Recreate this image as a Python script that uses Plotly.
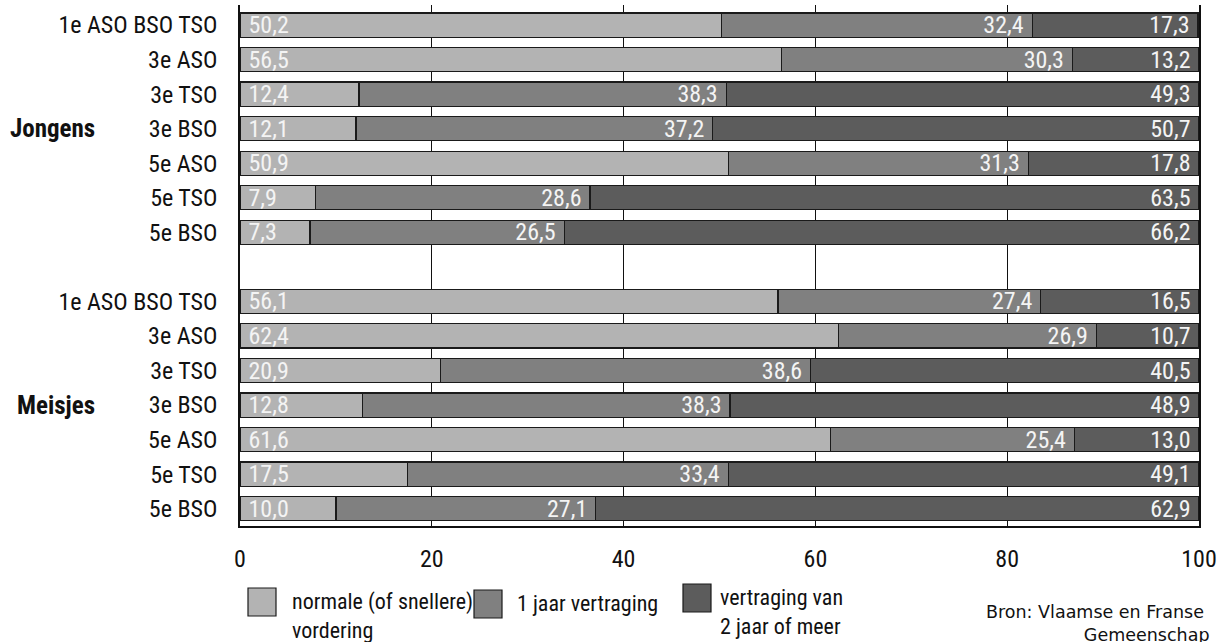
import plotly.graph_objects as go

# ---- data ----
groups = ["Jongens", "Meisjes"]
categories = ["1e ASO BSO TSO", "3e ASO", "3e TSO", "3e BSO", "5e ASO", "5e TSO", "5e BSO"]
series_names = ["normale (of snellere)<br>vordering", "1 jaar vertraging", "vertraging van<br>2 jaar of meer"]

jongens_normaal = [50.2, 56.5, 12.4, 12.1, 50.9, 7.9, 7.3]
jongens_1jaar = [32.4, 30.3, 38.3, 37.2, 31.3, 28.6, 26.5]
jongens_2jaar = [17.3, 13.2, 49.3, 50.7, 17.8, 63.5, 66.2]

meisjes_normaal = [56.1, 62.4, 20.9, 12.8, 61.6, 17.5, 10.0]
meisjes_1jaar = [27.4, 26.9, 38.6, 38.3, 25.4, 33.4, 27.1]
meisjes_2jaar = [16.5, 10.7, 40.5, 48.9, 13.0, 49.1, 62.9]

x_ticks = [0, 20, 40, 60, 80, 100]
source_text = "Bron: Vlaamse en Franse <br>Gemeenschap"

# ---- styling ----
colors = ["#b3b3b3", "#808080", "#5c5c5c"]
narrow = "Roboto Condensed, Liberation Sans Narrow, Arial Narrow, DejaVu Sans Condensed, sans-serif"

n = len(categories)
y_j = list(range(n))
y_m = [i + n + 1 for i in range(n)]
y_all = y_j + y_m
series = [jongens_normaal + meisjes_normaal,
          jongens_1jaar + meisjes_1jaar,
          jongens_2jaar + meisjes_2jaar]

fig = go.Figure()
for k, vals in enumerate(series):
    fig.add_trace(go.Bar(
        x=vals, y=y_all, orientation="h", name=series_names[k],
        marker=dict(color=colors[k], line=dict(color="#1a1a1a", width=1.2)),
        width=0.7,
        texttemplate=("\u00a0%{x:.1f}" if k == 0 else "%{x:.1f}\u00a0"),
        textposition="inside", insidetextanchor=("start" if k == 0 else "end"),
        textangle=0, constraintext="none",
        textfont=dict(family=narrow, size=24, color="#f4f4f4"),
        showlegend=False, hoverinfo="skip",
    ))

W, H = 1224, 642
# plot-area pixel geometry
L, R, T, B = 240, 1199, 5, 526


def px(xp):
    return (xp - L) / (R - L)


def py(yp):
    return (B - yp) / (B - T)


fig.update_layout(
    barmode="stack",
    width=W, height=H,
    margin=dict(l=L, r=W - R, t=T, b=H - B),
    plot_bgcolor="white", paper_bgcolor="white",
    separators=",.",
    font=dict(family=narrow, color="#111111"),
)
fig.update_xaxes(
    range=[0, 100], tickvals=x_ticks, ticktext=[str(v) for v in x_ticks],
    showgrid=True, gridcolor="#111111", gridwidth=1,
    zeroline=False, showline=True, linecolor="#111111", linewidth=1.5,
    ticks="", ticklabelstandoff=10,
    tickfont=dict(family=narrow, size=24, color="#111111"),
)
fig.update_yaxes(
    range=[len(y_all) + 0.5, -0.58], tickvals=y_all, ticktext=categories + categories,
    showgrid=False, zeroline=False, showline=True, mirror=True,
    linecolor="#111111", linewidth=1.5,
    ticks="", ticklabelstandoff=16,
    tickfont=dict(family=narrow, size=24, color="#111111"),
)

# group labels
for g, yy in zip(groups, [y_j[3], y_m[3]]):
    fig.add_annotation(x=px(97), y=yy, xref="paper", yref="y", text="<b>" + g + "</b>",
                       showarrow=False, xanchor="right", yanchor="middle",
                       font=dict(family=narrow, size=25, color="#111111"))

# legend (custom)
leg = [
    (248, 588, 290, 0),
    (474, 590, 515, 1),
    (683, 584, 718, 2),
]
for sx, sy, tx, k in leg:
    fig.add_shape(type="rect", xref="paper", yref="paper",
                  x0=px(sx), x1=px(sx + 28), y0=py(sy), y1=py(sy + 28),
                  fillcolor=colors[k], line=dict(color="#1a1a1a", width=1.2))
    fig.add_annotation(x=px(tx), y=py(sy - 1), xref="paper", yref="paper",
                       text=series_names[k], showarrow=False, align="left",
                       xanchor="left", yanchor="top",
                       font=dict(family=narrow, size=22, color="#111111"))

fig.add_annotation(x=px(1212), y=py(600), xref="paper", yref="paper",
                   text=source_text, showarrow=False, align="right",
                   xanchor="right", yanchor="top",
                   font=dict(family="DejaVu Sans, Verdana, sans-serif", size=17.5, color="#111111"))

# remove the default page margin so the figure sits at the window's top-left corner
fig.write_html("out.html", config={"displayModeBar": False},
               post_script="document.body.style.margin='0';")
